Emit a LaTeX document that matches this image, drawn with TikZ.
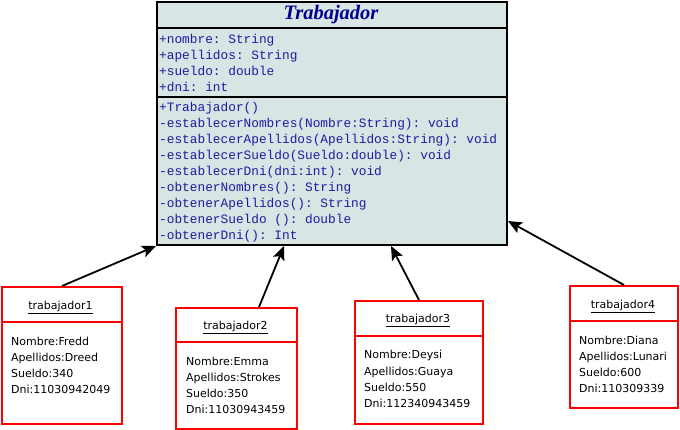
\documentclass[tikz,border=0pt]{standalone}
\usepackage{fontspec}
\setmainfont{DejaVu Sans}
\setmonofont{Liberation Mono}
\newfontfamily\titlefont{Liberation Serif}
\usetikzlibrary{arrows.meta,calc}
\definecolor{clsfill}{HTML}{D9E4E4}
\definecolor{clstext}{HTML}{1C1CA0}
\definecolor{clstitle}{HTML}{000090}
\begin{document}
\begin{tikzpicture}[x=1pt,y=-1pt,
 clsbox/.style={draw=black,line width=2pt,fill=clsfill,anchor=north west,inner sep=0pt},
 member/.style={anchor=base west,inner sep=0pt,font=\fontsize{12.8}{14}\ttfamily,text=clstext},
 objbox/.style={draw=red,line width=2pt,fill=white,anchor=north west,inner sep=0pt},
 objtitle/.style={anchor=base,inner sep=0pt,font=\fontsize{11}{13}\selectfont},
 objline/.style={anchor=base west,inner sep=0pt,font=\fontsize{11}{13}\selectfont},
 sep/.style={line width=2pt},
 link/.style={line width=1.8pt,-{Stealth[length=14pt,width=12pt,inset=3pt]}}
]
\useasboundingbox (0,0) rectangle (680,430);
% class box
\node[clsbox,minimum width=350pt,minimum height=243pt] (cls) at (156,1) {};
\draw[sep,black] (156,28) -- (506,28);
\draw[sep,black] (156,97) -- (506,97);
\node[inner sep=0pt,text=clstitle,font=\titlefont\fontsize{20.5}{22}\selectfont\bfseries\itshape] (title) at (331,14.5) {Trabajador};
\node[member] (a1) at (159,43.5) {+nombre: String};
\node[member] (a2) at (159,59.5) {+apellidos: String};
\node[member] (a3) at (159,75.5) {+sueldo: double};
\node[member] (a4) at (159,91.5) {+dni: int};
\node[member] (m1) at (159,112) {+Trabajador()};
\node[member] (m2) at (159,128) {-establecerNombres(Nombre:String): void};
\node[member] (m3) at (159,144) {-establecerApellidos(Apellidos:String): void};
\node[member] (m4) at (159,160) {-establecerSueldo(Sueldo:double): void};
\node[member] (m5) at (159,176) {-establecerDni(dni:int): void};
\node[member] (m6) at (159,192) {-obtenerNombres(): String};
\node[member] (m7) at (159,208) {-obtenerApellidos(): String};
\node[member] (m8) at (159,224) {-obtenerSueldo (): double};
\node[member] (m9) at (159,240) {-obtenerDni(): Int};
% object 1
\node[objbox,minimum width=120pt,minimum height=137pt] (o1) at (1,286) {};
\draw[sep,red] (1,322) -- (121,322);
\node[objtitle] (o1t) at (60.5,309.3) {\underline{trabajador1}};
\node[objline] (o1a) at (11,345.5) {Nombre:Fredd};
\node[objline] (o1b) at (11,361.5) {Apellidos:Dreed};
\node[objline] (o1c) at (11,377.5) {Sueldo:340};
\node[objline] (o1d) at (11,393.5) {Dni:11030942049};
% object 2
\node[objbox,minimum width=121pt,minimum height=121pt] (o2) at (175,307) {};
\draw[sep,red] (175,342) -- (296,342);
\node[objtitle] (o2t) at (235.5,329.3) {\underline{trabajador2}};
\node[objline] (o2a) at (186,365.3) {Nombre:Emma};
\node[objline] (o2b) at (186,381.3) {Apellidos:Strokes};
\node[objline] (o2c) at (186,397.3) {Sueldo:350};
\node[objline] (o2d) at (186,413.3) {Dni:11030943459};
% object 3
\node[objbox,minimum width=128pt,minimum height=123pt] (o3) at (354,300) {};
\draw[sep,red] (354,336) -- (482,336);
\node[objtitle] (o3t) at (418,322.7) {\underline{trabajador3}};
\node[objline] (o3a) at (364,359) {Nombre:Deysi};
\node[objline] (o3b) at (364,375) {Apellidos:Guaya};
\node[objline] (o3c) at (364,391) {Sueldo:550};
\node[objline] (o3d) at (364,407) {Dni:112340943459};
% object 4
\node[objbox,minimum width=108pt,minimum height=122pt] (o4) at (569,285) {};
\draw[sep,red] (569,321) -- (677,321);
\node[objtitle] (o4t) at (623,308.7) {\underline{trabajador4}};
\node[objline] (o4a) at (579,344.3) {Nombre:Diana};
\node[objline] (o4b) at (579,360.3) {Apellidos:Lunari};
\node[objline] (o4c) at (579,376.3) {Sueldo:600};
\node[objline] (o4d) at (579,392.3) {Dni:110309339};
% links
\draw[link] (o1.north) -- (cls.south west);
\draw[link] ($(o2.north west)+(84,0)$) -- ($(cls.south west)+(128,0)$);
\draw[link] (o3.north) -- ($(cls.south west)+(235,0)$);
\draw[link] (o4.north) -- ($(cls.north east)+(0,220)$);
\end{tikzpicture}
\end{document}
